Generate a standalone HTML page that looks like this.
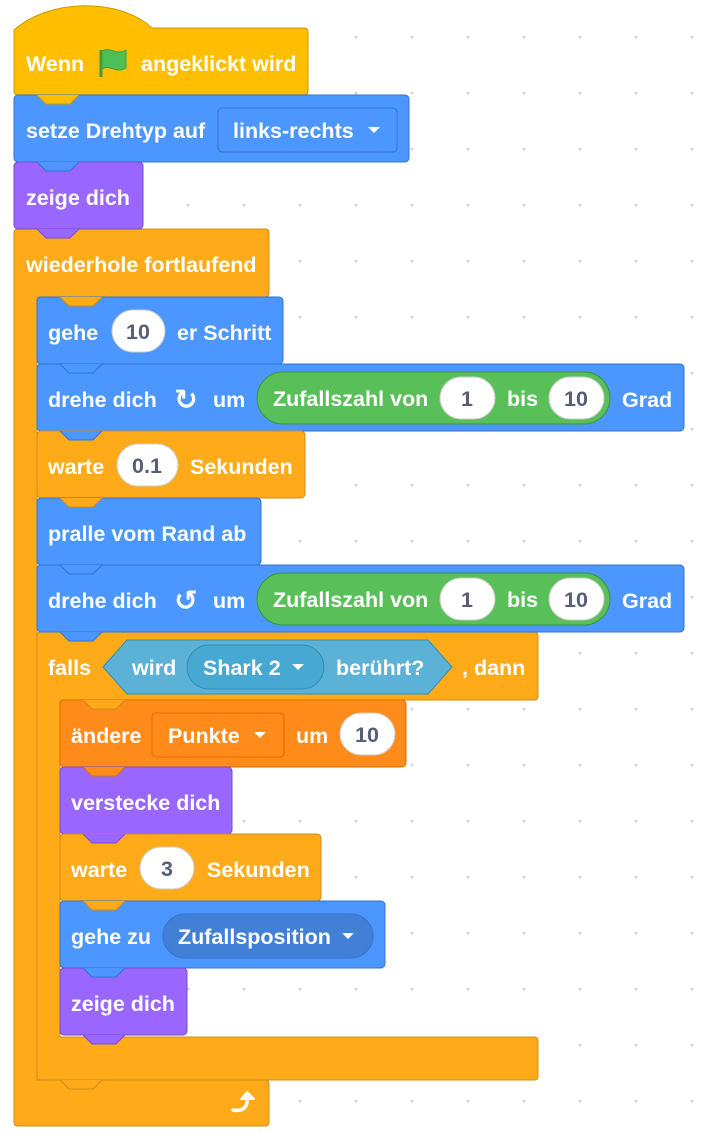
<!DOCTYPE html>
<html><head><meta charset="utf-8"><style>
html,body{margin:0;padding:0;background:#fff}
body{width:702px;height:1134px;overflow:hidden;background-image:radial-gradient(circle,#d4d4d4 1.3px,transparent 1.6px);background-size:56px 56px;background-position:-8px 9px}
svg{position:absolute;left:0;top:0}
text{font-family:"Liberation Sans",sans-serif;font-weight:bold;font-size:21.5px;fill:#fff}
.d{fill:#575E75}
</style></head><body>
<svg width="702" height="1134" viewBox="0 0 702 1134">
<path d="M14,233 q0,-4 4,-4 L265,229 q4,0 4,4 L269,293 q0,4 -4,4 L37,297 L37,1080 L265,1080 q4,0 4,4 L269,1122 q0,4 -4,4 L18,1126 q-4,0 -4,-4 Z" fill="#FFAB19" stroke="#CF8B17"/>
<path d="M37,636 q0,-4 4,-4 L534,632 q4,0 4,4 L538,696 q0,4 -4,4 L60,700 L60,1037 L534,1037 q4,0 4,4 L538,1076 q0,4 -4,4 L37,1080 Z" fill="#FFAB19" stroke="#CF8B17"/>
<path d="M14,30 C50,-2 120,-2 152,28 L304,28 q4,0 4,4 L308,91 q0,4 -4,4 L18,95 q-4,0 -4,-4 Z" fill="#FFBF00" stroke="#CC9900"/>
<rect x="14" y="95" width="395" height="67" rx="4" fill="#4C97FF" stroke="#3373CC"/>
<rect x="14" y="162" width="129" height="67" rx="4" fill="#9966FF" stroke="#774DCB"/>
<rect x="37" y="297" width="246" height="67" rx="4" fill="#4C97FF" stroke="#3373CC"/>
<rect x="37" y="364" width="647" height="67" rx="4" fill="#4C97FF" stroke="#3373CC"/>
<rect x="37" y="431" width="268" height="67" rx="4" fill="#FFAB19" stroke="#CF8B17"/>
<rect x="37" y="498" width="224" height="67" rx="4" fill="#4C97FF" stroke="#3373CC"/>
<rect x="37" y="565" width="647" height="67" rx="4" fill="#4C97FF" stroke="#3373CC"/>
<rect x="60" y="700" width="346" height="67" rx="4" fill="#FF8C1A" stroke="#DB6E00"/>
<rect x="60" y="767" width="172" height="67" rx="4" fill="#9966FF" stroke="#774DCB"/>
<rect x="60" y="834" width="261" height="67" rx="4" fill="#FFAB19" stroke="#CF8B17"/>
<rect x="60" y="901" width="325" height="67" rx="4" fill="#4C97FF" stroke="#3373CC"/>
<rect x="60" y="968" width="127" height="67" rx="4" fill="#9966FF" stroke="#774DCB"/>
<g stroke-width="1">
<path d="M37,95 L46,104 L70,104 L79,95" fill="#FFBF00" stroke="#CC9900"/>
<path d="M37,162 L46,171 L70,171 L79,162" fill="#4C97FF" stroke="#3373CC"/>
<path d="M37,229 L46,238 L70,238 L79,229" fill="#9966FF" stroke="#774DCB"/>
<path d="M60,297 L69,306 L93,306 L102,297" fill="#FFAB19" stroke="#CF8B17"/>
<path d="M60,364 L69,373 L93,373 L102,364" fill="#4C97FF" stroke="#3373CC"/>
<path d="M60,431 L69,440 L93,440 L102,431" fill="#4C97FF" stroke="#3373CC"/>
<path d="M60,498 L69,507 L93,507 L102,498" fill="#FFAB19" stroke="#CF8B17"/>
<path d="M60,565 L69,574 L93,574 L102,565" fill="#4C97FF" stroke="#3373CC"/>
<path d="M60,632 L69,641 L93,641 L102,632" fill="#4C97FF" stroke="#3373CC"/>
<path d="M83,700 L92,709 L116,709 L125,700" fill="#FFAB19" stroke="#CF8B17"/>
<path d="M83,767 L92,776 L116,776 L125,767" fill="#FF8C1A" stroke="#DB6E00"/>
<path d="M83,834 L92,843 L116,843 L125,834" fill="#9966FF" stroke="#774DCB"/>
<path d="M83,901 L92,910 L116,910 L125,901" fill="#FFAB19" stroke="#CF8B17"/>
<path d="M83,968 L92,977 L116,977 L125,968" fill="#4C97FF" stroke="#3373CC"/>
<path d="M83,1035 L92,1044 L116,1044 L125,1035" fill="#9966FF" stroke="#774DCB"/>
<path d="M60,1080 L69,1089 L93,1089 L102,1080" fill="#FFAB19" stroke="#CF8B17"/>
</g>
<text x="26" y="71">Wenn</text>
<path d="M101,50 L101,77" stroke="#45993d" stroke-width="3"/>
<path d="M102,51 C110,46 116,56 126,50 L126,68 C116,74 110,64 102,69 Z" fill="#4CBF56" stroke="#45993d" stroke-width="1"/>
<text x="141" y="71">angeklickt wird</text>
<text x="26" y="138">setze Drehtyp auf</text>
<rect x="218" y="108" width="179" height="44" rx="4" fill="#4C97FF" stroke="#3373CC"/>
<text x="233" y="138">links-rechts</text>
<path d="M368,127 L380,127 L374,133 Z" fill="#fff"/>
<text x="26" y="205">zeige dich</text>
<text x="26" y="272">wiederhole fortlaufend</text>
<text x="48" y="340">gehe</text>
<rect x="112" y="310" width="53" height="42" rx="21" fill="#fff" stroke="#ccc"/>
<text x="138" y="339" class="d" text-anchor="middle">10</text>
<text x="177" y="340">er Schritt</text>
<text x="48" y="407">drehe dich</text>
<text x="186" y="409" text-anchor="middle" style="font-family:'DejaVu Sans',sans-serif;font-size:28px">↻</text>
<text x="213" y="407">um</text>
<rect x="257" y="372" width="353" height="52" rx="26" fill="#59C059" stroke="#389438"/>
<text x="273" y="406">Zufallszahl von</text>
<rect x="440" y="377" width="55" height="42" rx="21" fill="#fff" stroke="#ccc"/>
<text x="467" y="406" class="d" text-anchor="middle">1</text>
<text x="507" y="406">bis</text>
<rect x="549" y="377" width="55" height="42" rx="21" fill="#fff" stroke="#ccc"/>
<text x="576" y="406" class="d" text-anchor="middle">10</text>
<text x="622" y="407">Grad</text>
<text x="48" y="474">warte</text>
<rect x="117" y="444" width="61" height="42" rx="21" fill="#fff" stroke="#ccc"/>
<text x="147" y="473" class="d" text-anchor="middle">0.1</text>
<text x="190" y="474">Sekunden</text>
<text x="48" y="541">pralle vom Rand ab</text>
<text x="48" y="608">drehe dich</text>
<text x="186" y="610" text-anchor="middle" style="font-family:'DejaVu Sans',sans-serif;font-size:28px">↺</text>
<text x="213" y="608">um</text>
<rect x="257" y="573" width="353" height="52" rx="26" fill="#59C059" stroke="#389438"/>
<text x="273" y="607">Zufallszahl von</text>
<rect x="440" y="578" width="55" height="42" rx="21" fill="#fff" stroke="#ccc"/>
<text x="467" y="607" class="d" text-anchor="middle">1</text>
<text x="507" y="607">bis</text>
<rect x="549" y="578" width="55" height="42" rx="21" fill="#fff" stroke="#ccc"/>
<text x="576" y="607" class="d" text-anchor="middle">10</text>
<text x="622" y="608">Grad</text>
<text x="48" y="675">falls</text>
<path d="M103,667 L127,640 L428,640 L452,667 L428,694 L127,694 Z" fill="#5CB1D6" stroke="#2E8EB8"/>
<text x="132" y="675">wird</text>
<rect x="187" y="645" width="137" height="44" rx="22" fill="#47A8D1" stroke="#2E8EB8"/>
<text x="203" y="675">Shark 2</text>
<path d="M292,664 L304,664 L298,670 Z" fill="#fff"/>
<text x="336" y="675">berührt?</text>
<text x="462" y="675">, dann</text>
<text x="71" y="743">ändere</text>
<rect x="152" y="713" width="132" height="44" rx="4" fill="#FF8C1A" stroke="#DB6E00"/>
<text x="168" y="743">Punkte</text>
<path d="M254,732 L266,732 L260,738 Z" fill="#fff"/>
<text x="296" y="743">um</text>
<rect x="340" y="713" width="55" height="42" rx="21" fill="#fff" stroke="#ccc"/>
<text x="367" y="742" class="d" text-anchor="middle">10</text>
<text x="71" y="810">verstecke dich</text>
<text x="71" y="877">warte</text>
<rect x="140" y="847" width="54" height="42" rx="21" fill="#fff" stroke="#ccc"/>
<text x="167" y="876" class="d" text-anchor="middle">3</text>
<text x="207" y="877">Sekunden</text>
<text x="71" y="944">gehe zu</text>
<rect x="163" y="914" width="210" height="44" rx="22" fill="#4280D7" stroke="#3373CC"/>
<text x="178" y="944">Zufallsposition</text>
<path d="M342,933 L354,933 L348,939 Z" fill="#fff"/>
<text x="71" y="1011">zeige dich</text>
<path d="M233,1110 C244,1112 248,1106 247,1098" stroke="#fff" stroke-width="3.5" fill="none" stroke-linecap="round"/>
<path d="M241,1099 L247,1092 L254,1099 Z" fill="#fff" stroke="#fff" stroke-width="2" stroke-linejoin="round"/>
</svg>
</body></html>
